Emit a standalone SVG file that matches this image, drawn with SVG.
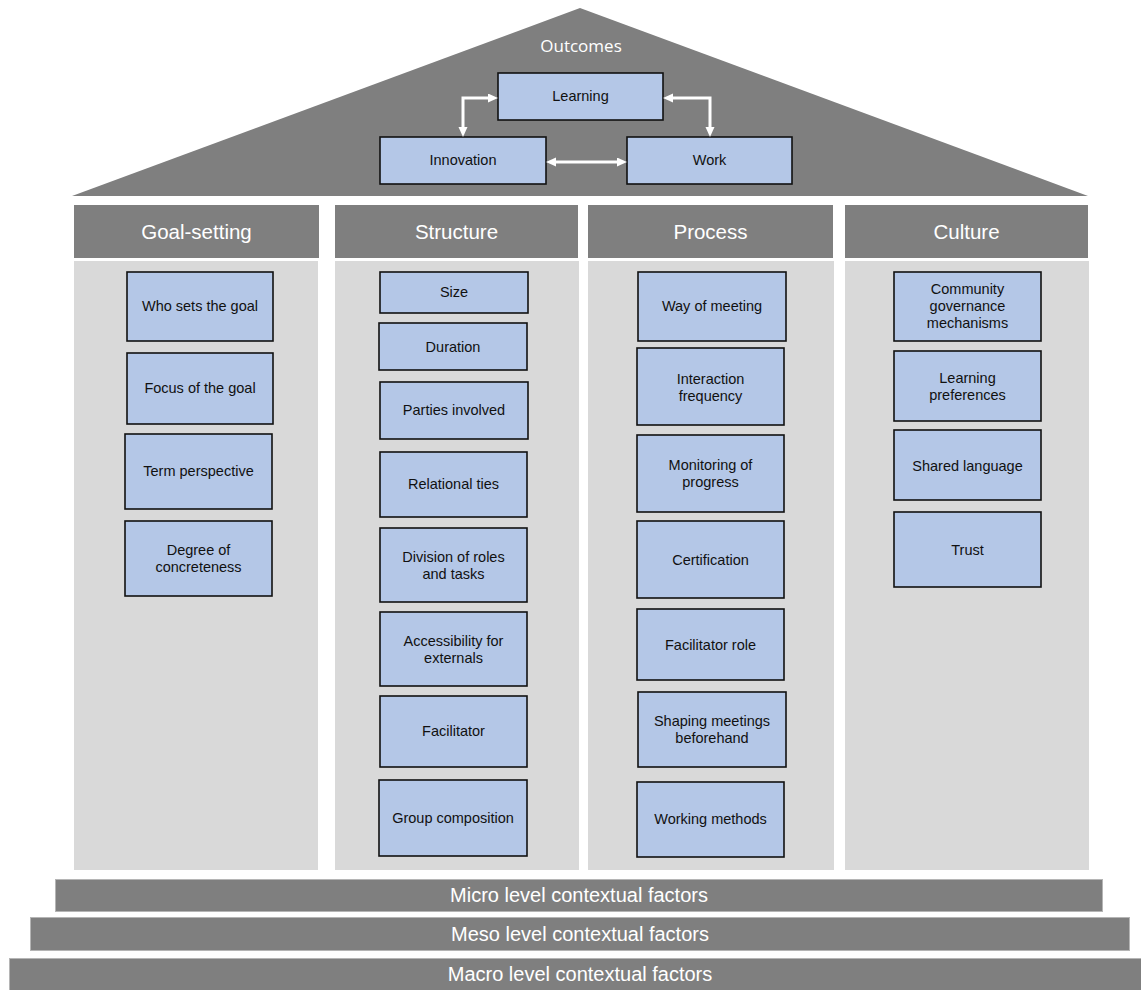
<svg xmlns="http://www.w3.org/2000/svg" width="1141" height="990" viewBox="0 0 1141 990">
<style>
.roof{fill:#7f7f7f}
.hdr{fill:#7f7f7f}
.body{fill:#d9d9d9}
.bar{fill:#7f7f7f;stroke:#b5b5b5;stroke-width:1}
.box{fill:#b4c7e7;stroke:#111;stroke-width:1.6}
.t{font-family:"Liberation Sans",Arial,sans-serif;font-size:14.5px;fill:#111;text-anchor:middle}
.ht{font-family:"Liberation Sans",Arial,sans-serif;font-size:20.5px;fill:#fff;text-anchor:middle}
.bt{font-family:"Liberation Sans",Arial,sans-serif;font-size:20px;fill:#fff;text-anchor:middle}
.ot{font-family:"Open Sans","Noto Sans",sans-serif;font-size:17px;fill:#fff;text-anchor:middle}
.conn{fill:none;stroke:#fff;stroke-width:3;marker-start:url(#ah);marker-end:url(#ah)}
</style>
<defs>
<marker id="ah" markerUnits="userSpaceOnUse" markerWidth="10" markerHeight="10" refX="3" refY="4.5" orient="auto-start-reverse">
<path d="M0,0 L10,4.5 L0,9 z" fill="#fff"/>
</marker>
</defs>
<rect width="1141" height="990" fill="#fff"/>
<polygon class="roof" points="72,196 580,8 1088,196"/>
<text class="ot" x="581" y="52">Outcomes</text>

<g id="col-goal">
<rect class="hdr" x="74" y="205" width="245" height="53"/>
<text class="ht" x="196.5" y="239">Goal-setting</text>
<rect class="body" x="74" y="261" width="244" height="609"/>
</g>
<g id="col-structure">
<rect class="hdr" x="335" y="205" width="243" height="53"/>
<text class="ht" x="456.5" y="239">Structure</text>
<rect class="body" x="335" y="261" width="244" height="609"/>
</g>
<g id="col-process">
<rect class="hdr" x="588" y="205" width="245" height="53"/>
<text class="ht" x="710.5" y="239">Process</text>
<rect class="body" x="588" y="261" width="246" height="609"/>
</g>
<g id="col-culture">
<rect class="hdr" x="845" y="205" width="243" height="53"/>
<text class="ht" x="966.5" y="239">Culture</text>
<rect class="body" x="845" y="261" width="244" height="609"/>
</g>

<g id="outcome-learning"><rect class="box" x="498" y="73" width="165" height="47"/><text class="t" x="580.5" y="101">Learning</text></g>
<g id="outcome-innovation"><rect class="box" x="380" y="137" width="166" height="47"/><text class="t" x="463" y="165">Innovation</text></g>
<g id="outcome-work"><rect class="box" x="627" y="137" width="165" height="47"/><text class="t" x="709.5" y="165">Work</text></g>

<g id="connectors">
<path class="conn" d="M491,98 H463 V130"/>
<path class="conn" d="M670,98 H710 V130"/>
<path class="conn" d="M553,162 H620"/>
</g>

<g id="g1"><rect class="box" x="127" y="272" width="146" height="69"/><text class="t" x="200" y="311">Who sets the goal</text></g>
<g id="g2"><rect class="box" x="127" y="353" width="146" height="71"/><text class="t" x="200" y="393">Focus of the goal</text></g>
<g id="g3"><rect class="box" x="125" y="434" width="147" height="75"/><text class="t" x="198.5" y="476">Term perspective</text></g>
<g id="g4"><rect class="box" x="125" y="521" width="147" height="75"/><text class="t" x="198.5" y="555">Degree of</text><text class="t" x="198.5" y="572">concreteness</text></g>

<g id="s1"><rect class="box" x="380" y="272" width="148" height="41"/><text class="t" x="454" y="297">Size</text></g>
<g id="s2"><rect class="box" x="379" y="323" width="148" height="47"/><text class="t" x="453" y="352">Duration</text></g>
<g id="s3"><rect class="box" x="380" y="382" width="148" height="57"/><text class="t" x="454" y="415">Parties involved</text></g>
<g id="s4"><rect class="box" x="380" y="452" width="147" height="65"/><text class="t" x="453.5" y="489">Relational ties</text></g>
<g id="s5"><rect class="box" x="380" y="528" width="147" height="74"/><text class="t" x="453.5" y="562">Division of roles</text><text class="t" x="453.5" y="579">and tasks</text></g>
<g id="s6"><rect class="box" x="380" y="612" width="147" height="74"/><text class="t" x="453.5" y="646">Accessibility for</text><text class="t" x="453.5" y="663">externals</text></g>
<g id="s7"><rect class="box" x="380" y="696" width="147" height="71"/><text class="t" x="453.5" y="736">Facilitator</text></g>
<g id="s8"><rect class="box" x="379" y="780" width="148" height="76"/><text class="t" x="453" y="823">Group composition</text></g>

<g id="p1"><rect class="box" x="638" y="272" width="148" height="69"/><text class="t" x="712" y="311">Way of meeting</text></g>
<g id="p2"><rect class="box" x="637" y="348" width="147" height="77"/><text class="t" x="710.5" y="384">Interaction</text><text class="t" x="710.5" y="401">frequency</text></g>
<g id="p3"><rect class="box" x="637" y="435" width="147" height="77"/><text class="t" x="710.5" y="470">Monitoring of</text><text class="t" x="710.5" y="487">progress</text></g>
<g id="p4"><rect class="box" x="637" y="521" width="147" height="77"/><text class="t" x="710.5" y="565">Certification</text></g>
<g id="p5"><rect class="box" x="637" y="609" width="147" height="71"/><text class="t" x="710.5" y="650">Facilitator role</text></g>
<g id="p6"><rect class="box" x="638" y="692" width="148" height="75"/><text class="t" x="712" y="726">Shaping meetings</text><text class="t" x="712" y="743">beforehand</text></g>
<g id="p7"><rect class="box" x="637" y="782" width="147" height="75"/><text class="t" x="710.5" y="824">Working methods</text></g>

<g id="c1"><rect class="box" x="894" y="272" width="147" height="69"/><text class="t" x="967.5" y="294">Community</text><text class="t" x="967.5" y="311">governance</text><text class="t" x="967.5" y="328">mechanisms</text></g>
<g id="c2"><rect class="box" x="894" y="351" width="147" height="70"/><text class="t" x="967.5" y="383">Learning</text><text class="t" x="967.5" y="400">preferences</text></g>
<g id="c3"><rect class="box" x="894" y="430" width="147" height="70"/><text class="t" x="967.5" y="471">Shared language</text></g>
<g id="c4"><rect class="box" x="894" y="512" width="147" height="75"/><text class="t" x="967.5" y="555">Trust</text></g>

<g id="micro"><rect class="bar" x="55.5" y="879.5" width="1047" height="32"/><text class="bt" x="579" y="902">Micro level contextual factors</text></g>
<g id="meso"><rect class="bar" x="30.5" y="917.5" width="1099" height="33"/><text class="bt" x="580" y="941">Meso level contextual factors</text></g>
<g id="macro"><rect class="bar" x="9.5" y="958.5" width="1132" height="33"/><text class="bt" x="580" y="981">Macro level contextual factors</text></g>
</svg>
